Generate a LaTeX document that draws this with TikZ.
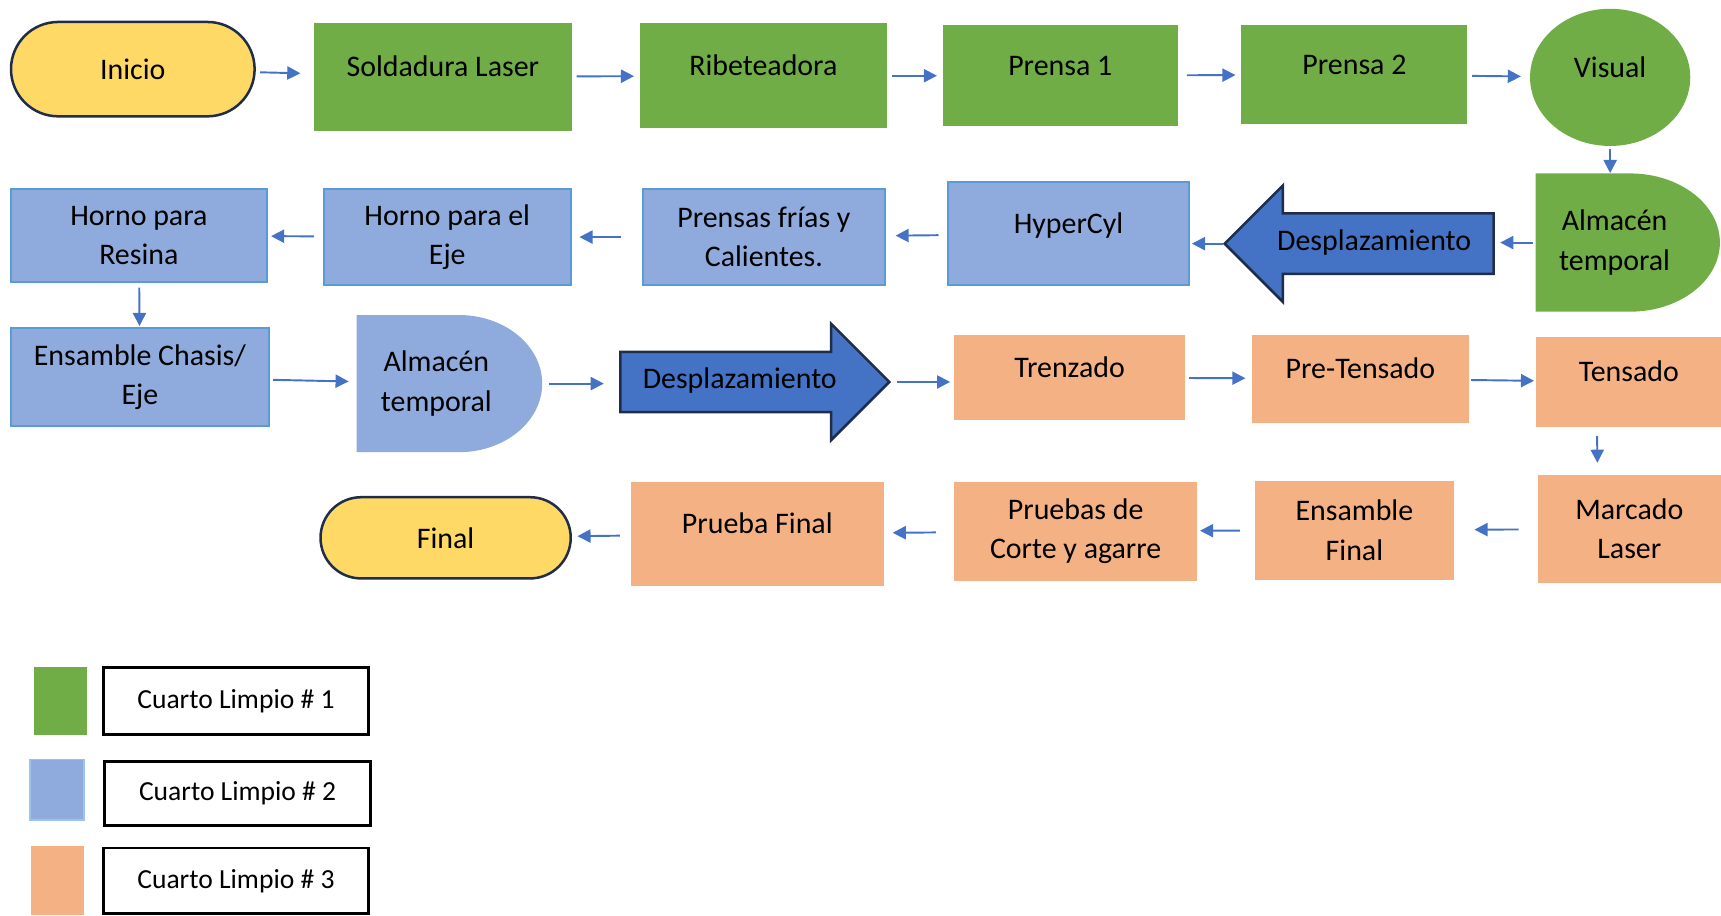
\documentclass[tikz,border=0pt]{standalone}
\usepackage{fontspec}
\setmainfont{Carlito}
\usetikzlibrary{arrows.meta,shapes.misc,shapes.arrows,shapes.geometric}

\definecolor{verdeC}{HTML}{70AD47}
\definecolor{azulC}{HTML}{8FAADC}
\definecolor{bordeAz}{HTML}{5B9BD5}
\definecolor{azulF}{HTML}{4472C4}
\definecolor{naranjaC}{HTML}{F4B183}
\definecolor{amarillo}{HTML}{FFD966}
\definecolor{marino}{HTML}{1F2D4A}

% texto del almacen, un poco a la izquierda
\newcommand{\almtexto}{Almacén\hspace*{13.6pt}\\temporal\hspace*{13.6pt}}

\tikzset{
  paso/.style={rectangle, inner sep=0pt, align=center,
    font=\fontsize{15.5}{20.4}\selectfont},
  verde/.style={paso, fill=verdeC},
  azul/.style={paso, fill=azulC, draw=bordeAz, line width=1.1pt},
  naranja/.style={paso, fill=naranjaC},
  una/.style={text height=12pt, text depth=12pt},
  terminal/.style={paso, rounded rectangle, fill=amarillo, draw=marino, line width=1.3pt},
  almacen/.style 2 args={paso, path picture={
      \fill[#1] (path picture bounding box.north west)
        -- ([xshift=-#2]path picture bounding box.north east)
        arc[start angle=90, end angle=-90, x radius=#2,
            y radius={0.5*\pgfkeysvalueof{/pgf/minimum height}}]
        -- (path picture bounding box.south west) -- cycle;}},
  despl/.style={single arrow, draw=marino, fill=azulF, line width=1.3pt,
    single arrow tip angle=90, single arrow head extend=0.51cm,
    minimum height=4.9cm, inner ysep=7.5pt, text height=11pt, text depth=4pt,
    font=\fontsize{15.5}{20.4}\selectfont},
  flecha/.style={draw=azulF, line width=1pt, -{Triangle[length=6.8pt,width=6.8pt]},
    shorten <=0.08cm, shorten >=0.1cm},
  muestra/.style={inner sep=0pt, minimum width=0.97cm},
  leyenda/.style={draw=black, line width=1.4pt, minimum width=4.84cm,
    font=\fontsize{14.3}{17}\selectfont},
}

\begin{document}
\begin{tikzpicture}[x=0.02cm, y=-0.02cm]
  \useasboundingbox (0,0) rectangle (1568,834);

  % fila 1
  \node[terminal, minimum width=4.44cm, minimum height=1.72cm] (inicio) at (121,63) {Inicio};
  \node[verde, una, minimum width=4.7cm, minimum height=1.96cm] (soldadura) at (403.5,70) {Soldadura Laser};
  \node[verde, una, minimum width=4.5cm, minimum height=1.92cm] (ribete) at (695.5,69) {Ribeteadora};
  \node[verde, una, minimum width=4.28cm, minimum height=1.84cm] (prensa1) at (966,69) {Prensa 1};
  \node[verde, una, minimum width=4.12cm, minimum height=1.8cm] (prensa2) at (1234,68) {Prensa 2};
  \node[verde, una, ellipse, minimum width=2.92cm, minimum height=2.5cm] (visual) at (1467,70.5) {Visual};

  % fila 2
  \node[almacen={verdeC}{1.64cm}, minimum width=3.36cm, minimum height=2.52cm] (alm1) at (1483,221) {\almtexto};
  \node[despl, shape border rotate=180] (des1) at (1252,222) {Desplazamiento};
  \node[azul, una, minimum width=4.38cm, minimum height=1.88cm] (hyper) at (973.5,213) {HyperCyl};
  \node[azul, minimum width=4.4cm, minimum height=1.76cm] (prensas) at (696,216) {Prensas frías y\\Calientes.};
  \node[azul, minimum width=4.5cm, minimum height=1.76cm] (hornoeje) at (407.5,216) {Horno para el\\Eje};
  \node[azul, minimum width=4.66cm, minimum height=1.7cm] (hornoresina) at (126.5,214.5) {Horno para\\Resina};

  % fila 3
  \node[azul, minimum width=4.7cm, minimum height=1.78cm] (ensamble) at (127.5,343.5) {Ensamble Chasis/\\Eje};
  \node[almacen={azulC}{1.52cm}, minimum width=3.38cm, minimum height=2.5cm] (alm2) at (409.5,349.5) {\almtexto};
  \node[despl] (des2) at (674,348) {Desplazamiento};
  \node[naranja, una, minimum width=4.22cm, minimum height=1.56cm] (trenzado) at (974.5,344) {Trenzado};
  \node[naranja, una, minimum width=3.94cm, minimum height=1.6cm] (pretensado) at (1239.5,345) {Pre-Tensado};
  \node[naranja, una, minimum width=3.4cm, minimum height=1.64cm] (tensado) at (1484,348) {Tensado};

  % fila 4
  \node[naranja, minimum width=3.34cm, minimum height=1.96cm] (marcado) at (1484.5,482) {Marcado\\Laser};
  \node[naranja, minimum width=3.64cm, minimum height=1.8cm] (ensfinal) at (1234,483) {Ensamble\\Final};
  \node[naranja, minimum width=4.44cm, minimum height=1.8cm] (pruebas) at (980,484) {Pruebas de\\Corte y agarre};
  \node[naranja, una, minimum width=4.6cm, minimum height=1.9cm] (pruebafinal) at (690,486.5) {Prueba Final};
  \node[terminal, minimum width=4.56cm, minimum height=1.48cm] (final) at (406,490) {Final};

  % flechas
  \draw[flecha, shorten >=0.24cm] (inicio) -- (soldadura);
  \draw[flecha] (soldadura) -- (ribete);
  \draw[flecha] (ribete) -- (prensa1);
  \draw[flecha, shorten <=0.16cm] (prensa1) -- (prensa2);
  \draw[flecha, shorten >=0.16cm] (prensa2) -- (visual);
  \draw[flecha, shorten <=0.04cm, shorten >=0cm] (visual.south) -- (visual.south |- alm1.north);
  \draw[flecha, shorten <=0.04cm] (alm1.west) -- (alm1.west -| des1.tail);
  \draw[flecha, shorten <=0cm, shorten >=0.04cm] (des1.tip) -- (des1.tip -| hyper.east);
  \draw[flecha, shorten <=0.16cm, shorten >=0.18cm] (hyper) -- (prensas);
  \draw[flecha, shorten <=0.38cm, shorten >=0.14cm] (prensas) -- (hornoeje);
  \draw[flecha, shorten <=0.16cm, shorten >=0.06cm] (hornoeje) -- (hornoresina);
  \draw[flecha, shorten >=0.02cm] (hornoresina) -- (ensamble);
  \draw[flecha, shorten <=0.06cm, shorten >=0.14cm] (ensamble) -- (alm2);
  \draw[flecha, shorten <=0.12cm, shorten >=0.28cm] (alm2.east) -- (alm2.east -| des2.tail);
  \draw[flecha, shorten <=0.1cm, shorten >=0.06cm] (des2.tip) -- (des2.tip -| trenzado.west);
  \draw[flecha, shorten <=0.06cm, shorten >=0.12cm] (trenzado) -- (pretensado);
  \draw[flecha, shorten <=0.04cm, shorten >=0.02cm] (pretensado) -- (tensado);
  \draw[flecha, shorten <=0.16cm, shorten >=0.22cm] ([xshift=-0.58cm]tensado.south) -- ([xshift=-0.58cm]marcado.north);
  \draw[flecha, shorten <=0.34cm, shorten >=0.36cm] (marcado) -- (ensfinal);
  \draw[flecha, shorten <=0.26cm, shorten >=0.04cm] (ensfinal) -- (pruebas);
  \draw[flecha, shorten <=0.32cm, shorten >=0.16cm] (pruebas) -- (pruebafinal);
  \draw[flecha, shorten <=0.2cm] (pruebafinal) -- (final);

  % leyenda
  \node[muestra, fill=verdeC, minimum height=1.24cm] (mverde) at (55,639) {};
  \node[leyenda, minimum height=1.22cm] (ley1) at (215,638.5) {Cuarto Limpio \# 1};
  \node[muestra, fill=azulC, draw=bordeAz!60, line width=1pt, minimum height=1.1cm] (mazul) at (52,719.5) {};
  \node[leyenda, minimum height=1.16cm] (ley2) at (216.5,723) {Cuarto Limpio \# 2};
  \node[muestra, fill=naranjaC, minimum height=1.26cm] (mnaranja) at (52.5,802.5) {};
  \node[leyenda, minimum height=1.2cm] (ley3) at (215,802.5) {Cuarto Limpio \# 3};
\end{tikzpicture}
\end{document}
